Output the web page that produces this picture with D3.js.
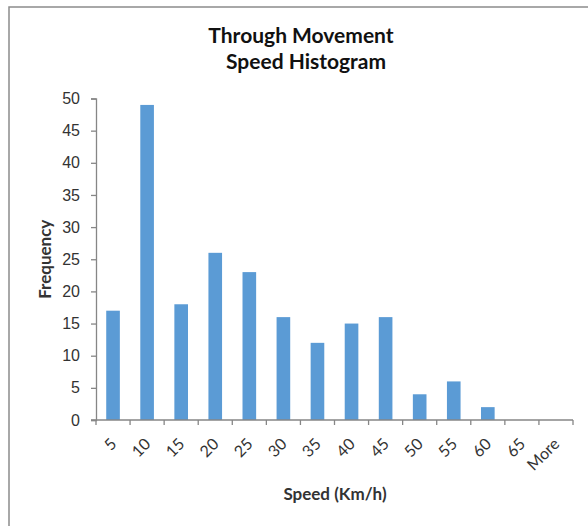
<!DOCTYPE html>
<html>
<head>
<meta charset="utf-8">
<script src="https://cdn.jsdelivr.net/npm/d3@7"></script>
<style>
  html, body { margin: 0; padding: 0; background: #fff; }
  svg { display: block; font-family: Lato, "Open Sans", sans-serif; }
</style>
</head>
<body>
<svg id="chart" width="588" height="526"></svg>
<script>
// Speed bins (upper bound, km/h) and observed counts
const categories = ["5", "10", "15", "20", "25", "30", "35", "40", "45", "50", "55", "60", "65", "More"];
const frequency = [17, 49, 18, 26, 23, 16, 12, 15, 16, 4, 6, 2, 0, 0];
const yTicks = [0, 5, 10, 15, 20, 25, 30, 35, 40, 45, 50];
const titleLines = ["Through Movement", "Speed Histogram"];
const xTitle = "Speed (Km/h)";
const yTitle = "Frequency";

const svg = d3.select("#chart");
const plot = { left: 96, right: 573, top: 98.5, bottom: 420 };

// chart frame
svg.append("rect")
  .attr("x", 9).attr("y", 7)
  .attr("width", 600).attr("height", 540)
  .attr("fill", "#fff")
  .attr("stroke", "#8c8c8c")
  .attr("stroke-width", 1.5);

const x = d3.scaleBand()
  .domain(categories)
  .range([plot.left, plot.right])
  .paddingInner(0.6)
  .paddingOuter(0.3);

const y = d3.scaleLinear()
  .domain([0, 50])
  .range([plot.bottom, plot.top]);

// bars
svg.append("g")
  .selectAll("rect")
  .data(frequency)
  .join("rect")
  .attr("x", (d, i) => x(categories[i]))
  .attr("y", d => y(d))
  .attr("width", x.bandwidth())
  .attr("height", d => y(0) - y(d))
  .attr("fill", "#5b9bd5");

const axisColor = "#868686";
const labelColor = "#333";

// y axis
const yAxis = svg.append("g")
  .attr("transform", `translate(${plot.left},0)`)
  .call(d3.axisLeft(y).tickValues(yTicks).tickSize(5).tickPadding(11));
yAxis.select(".domain").attr("stroke", axisColor).attr("stroke-width", 1.3);
yAxis.selectAll(".tick line").attr("stroke", axisColor).attr("stroke-width", 1.3);
yAxis.selectAll(".tick text")
  .attr("fill", labelColor)
  .style("font-size", "16px");

// x axis: ticks sit on category boundaries
const boundaries = d3.range(categories.length + 1).map(i => plot.left + i * (plot.right - plot.left) / categories.length);
const xg = svg.append("g");
xg.append("line")
  .attr("x1", plot.left - 5).attr("x2", plot.right)
  .attr("y1", plot.bottom).attr("y2", plot.bottom)
  .attr("stroke", axisColor).attr("stroke-width", 1.3);
xg.selectAll("line.tick")
  .data(boundaries)
  .join("line")
  .attr("class", "tick")
  .attr("x1", d => d).attr("x2", d => d)
  .attr("y1", plot.bottom).attr("y2", plot.bottom + 5)
  .attr("stroke", axisColor).attr("stroke-width", 1.3);
xg.selectAll("text")
  .data(categories)
  .join("text")
  .attr("transform", d => `translate(${x(d) + x.bandwidth() / 2 + 4.5},${plot.bottom + 25}) rotate(-45)`)
  .attr("text-anchor", "end")
  .attr("fill", labelColor)
  .style("font-size", "16px")
  .text(d => d);

// titles
const titleX = [301, 306];
svg.append("text")
  .attr("text-anchor", "middle")
  .attr("fill", "#111")
  .style("font-size", "21px")
  .style("font-weight", "bold")
  .selectAll("tspan")
  .data(titleLines)
  .join("tspan")
  .attr("x", (d, i) => titleX[i])
  .attr("y", (d, i) => 43 + i * 26)
  .text(d => d);

svg.append("text")
  .attr("x", 335).attr("y", 500)
  .attr("text-anchor", "middle")
  .attr("fill", labelColor)
  .style("font-size", "17px")
  .style("font-weight", "bold")
  .text(xTitle);

svg.append("text")
  .attr("transform", `translate(51,${(plot.top + plot.bottom) / 2}) rotate(-90)`)
  .attr("text-anchor", "middle")
  .attr("fill", labelColor)
  .style("font-size", "17px")
  .style("font-weight", "bold")
  .text(yTitle);
</script>
</body>
</html>
